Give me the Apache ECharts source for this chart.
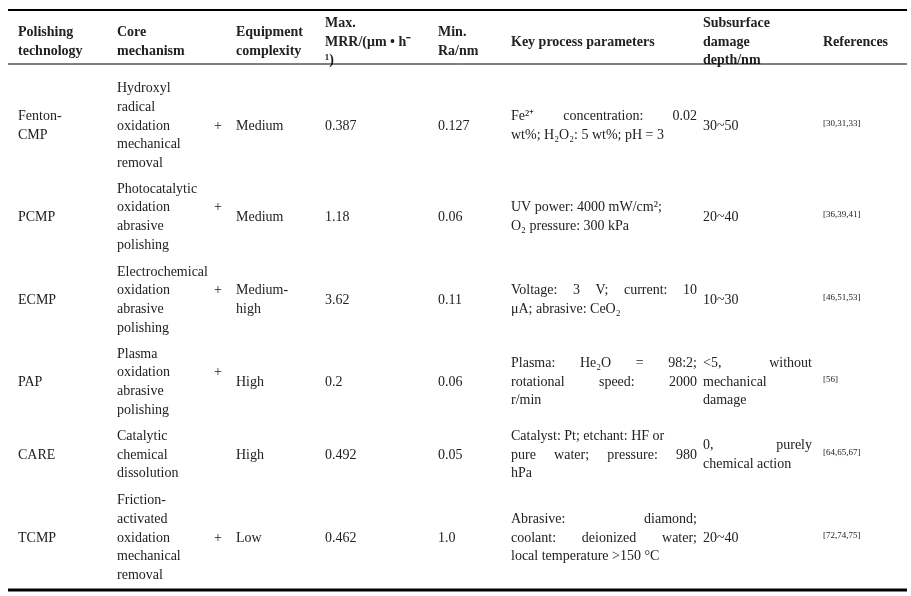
<!DOCTYPE html>
<html>
<head>
<meta charset="utf-8">
<script src="https://cdn.jsdelivr.net/npm/echarts@6/dist/echarts.min.js"></script>
<style>html,body{margin:0;padding:0;background:#fff}#main{width:911px;height:596px}</style>
</head>
<body>
<div id="main"></div>
<script>
// "|" at start of a line = justified line
var headers = [
  ['Polishing', 'technology'], ['Core', 'mechanism'], ['Equipment', 'complexity'],
  ['Max.', 'MRR/(μm • h⁻', '¹)'], ['Min.', 'Ra/nm'], ['Key process parameters'],
  ['Subsurface', 'damage', 'depth/nm'], ['References']
];
var techs = [['Fenton-', 'CMP'], ['PCMP'], ['ECMP'], ['PAP'], ['CARE'], ['TCMP']];
var mechanisms = [
  ['Hydroxyl', 'radical', 'oxidation +', 'mechanical', 'removal'],
  ['Photocatalytic', 'oxidation +', 'abrasive', 'polishing'],
  ['Electrochemical', 'oxidation +', 'abrasive', 'polishing'],
  ['Plasma', 'oxidation +', 'abrasive', 'polishing'],
  ['Catalytic', 'chemical', 'dissolution'],
  ['Friction-', 'activated', 'oxidation +', 'mechanical', 'removal']
];
var complexity = [['Medium'], ['Medium'], ['Medium-', 'high'], ['High'], ['High'], ['Low']];
var maxMRR = ['0.387', '1.18', '3.62', '0.2', '0.492', '0.462'];
var minRa = ['0.127', '0.06', '0.11', '0.06', '0.05', '1.0'];
var params = [
  ['|Fe²⁺ concentration: 0.02', 'wt%; H₂O₂: 5 wt%; pH = 3'],
  ['UV power: 4000 mW/cm²;', 'O₂ pressure: 300 kPa'],
  ['|Voltage: 3 V; current: 10', 'μA; abrasive: CeO₂'],
  ['|Plasma: He₂O = 98:2;', '|rotational speed: 2000', 'r/min'],
  ['Catalyst: Pt; etchant: HF or', '|pure water; pressure: 980', 'hPa'],
  ['|Abrasive: diamond;', '|coolant: deionized water;', 'local temperature >150 °C']
];
var damage = [['30~50'], ['20~40'], ['10~30'], ['|<5, without', 'mechanical', 'damage'], ['|0, purely', 'chemical action'], ['20~40']];
var refs = ['[30,31,33]', '[36,39,41]', '[46,51,53]', '[56]', '[64,65,67]', '[72,74,75]'];

var colX = [18, 117, 236, 325, 438, 511, 703, 823];
var colW = [95, 107, 85, 105, 65, 186, 109, 80];
var rowY = [126, 217, 300, 382, 455, 538];
var LH = 18.7;
var FONT = 'Liberation Serif, Times New Roman, serif';
var ctx = document.createElement('canvas').getContext('2d');
var els = [];

function addLines(lines, col, cy, bold, size) {
  var n = lines.length;
  lines.forEach(function (ln, i) {
    var y = cy + (i - (n - 1) / 2) * LH;
    var font = (bold ? 'bold ' : '') + size + 'px ' + FONT;
    if (ln.slice(-2) === ' +') {
      ln = ln.slice(0, -2);
      els.push({ type: 'text', x: 214, y: y, style: { text: '+', font: font, fill: '#222', textVerticalAlign: 'middle' } });
    }
    if (ln[0] === '|') {
      var words = ln.slice(1).split(' ');
      ctx.font = font;
      var tot = 0;
      words.forEach(function (w) { tot += ctx.measureText(w).width; });
      var gap = (colW[col] - tot) / (words.length - 1);
      var x = colX[col];
      words.forEach(function (w) {
        els.push({ type: 'text', x: x, y: y, style: { text: w, font: font, fill: '#222', textVerticalAlign: 'middle' } });
        x += ctx.measureText(w).width + gap;
      });
    } else {
      els.push({ type: 'text', x: colX[col], y: y, style: { text: ln, font: font, fill: '#222', textVerticalAlign: 'middle' } });
    }
  });
}

headers.forEach(function (h, c) { addLines(h, c, 42, true, 14); });
rowY.forEach(function (cy, r) {
  addLines(techs[r], 0, cy, false, 14);
  addLines(mechanisms[r], 1, cy, false, 14);
  addLines(complexity[r], 2, cy, false, 14);
  addLines([maxMRR[r]], 3, cy, false, 14);
  addLines([minRa[r]], 4, cy, false, 14);
  addLines(params[r], 5, cy, false, 14);
  addLines(damage[r], 6, cy, false, 14);
  addLines([refs[r]], 7, cy - 2, false, 9);
});

[[10, 2], [64, 1], [590, 3]].forEach(function (l) {
  els.push({ type: 'line', shape: { x1: 8, y1: l[0], x2: 907, y2: l[0] }, style: { stroke: '#000', lineWidth: l[1] } });
});

var myChart = echarts.init(document.getElementById('main'));
var option = { animation: false, graphic: { elements: els } };
option && myChart.setOption(option);
</script>
</body>
</html>
